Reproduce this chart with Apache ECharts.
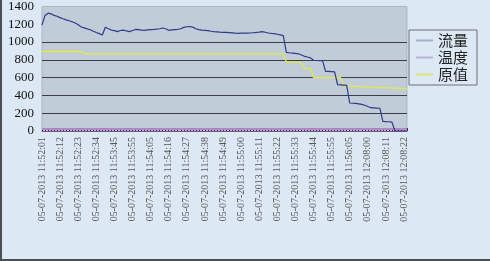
<!DOCTYPE html>
<html>
<head>
<meta charset="utf-8">
<script src="https://cdn.jsdelivr.net/npm/echarts@6/dist/echarts.min.js"></script>
<style>
html,body{margin:0;padding:0;background:#dce9f5;}
#c{width:488px;height:259px;border-left:2px solid #4a4f55;border-bottom:2px solid #4a4f55;}
</style>
</head>
<body>
<div id="c"></div>
<script>
var tickLabels = ['05-07-2013 11:52:01','05-07-2013 11:52:12','05-07-2013 11:52:23','05-07-2013 11:52:34',
  '05-07-2013 11:53:45','05-07-2013 11:53:55','05-07-2013 11:54:05','05-07-2013 11:54:16',
  '05-07-2013 11:54:27','05-07-2013 11:54:38','05-07-2013 11:54:49','05-07-2013 11:55:00',
  '05-07-2013 11:55:11','05-07-2013 11:55:22','05-07-2013 11:55:33','05-07-2013 11:55:44',
  '05-07-2013 11:55:55','05-07-2013 11:56:05','05-07-2013 12:08:00','05-07-2013 12:08:11',
  '05-07-2013 12:08:22'];
var seriesNames = ['流量','温度','原值'];
var flow = [1190,1300,1325,1318,1300,1290,1275,1262,1250,1240,
  1228,1214,1195,1170,1160,1148,1138,1122,1108,1095,
  1080,1166,1150,1135,1128,1118,1130,1135,1125,1118,
  1130,1142,1140,1135,1132,1138,1140,1142,1145,1150,
  1158,1150,1132,1138,1140,1142,1150,1165,1172,1175,
  1168,1150,1140,1135,1132,1128,1122,1118,1115,1112,
  1110,1108,1106,1104,1100,1098,1100,1102,1100,1102,
  1105,1108,1112,1118,1110,1102,1098,1095,1088,1080,
  1072,885,880,876,872,868,855,840,832,822,
  795,793,792,792,670,670,668,665,520,518,
  515,512,315,312,310,305,300,290,275,262,
  260,258,256,108,105,104,100,0,0,0,
  0,0];
var temperature = [22,22,22,22,22,22,22,22,22,22,
  22,22,22,22,22,22,22,22,22,22,
  22,22,22,22,22,22,22,22,22,22,
  22,22,22,22,22,22,22,22,22,22,
  22,22,22,22,22,22,22,22,22,22,
  22,22,22,22,22,22,22,22,22,22,
  22,22,22,22,22,22,22,22,22,22,
  22,22,22,22,22,22,22,22,22,22,
  22,22,22,22,22,22,22,22,22,22,
  22,22,22,22,22,22,22,22,22,22,
  22,22,22,22,22,22,22,22,22,22,
  22,22,22,22,22,22,22,22,22,22,
  22,22];
var original = [894,894,894,894,894,894,894,894,894,894,
  894,894,894,894,868,868,868,868,868,868,
  868,868,868,868,868,868,868,868,868,868,
  868,868,868,868,868,868,868,868,868,868,
  868,868,868,868,868,868,868,868,868,868,
  868,868,868,868,868,868,868,868,868,868,
  868,868,868,868,868,868,868,868,868,868,
  868,868,868,868,868,868,868,868,868,868,
  868,775,775,775,775,775,760,705,705,705,
  600,600,600,600,600,600,600,600,600,600,
  506,505,504,503,502,500,498,497,495,494,
  492,490,489,488,486,485,484,482,481,480,
  479,478];

var categories = flow.map(function(v, i){ return (i % 6 === 0 && tickLabels[i/6]) ? tickLabels[i/6] : ''; });

var chart = echarts.init(document.getElementById('c'), null, {renderer:'canvas'});
var gridColor = '#3b3f45';
chart.setOption({
  animation:false,
  backgroundColor:'#dce9f5',
  grid:{left:40, top:6, right:83, bottom:128, show:true, backgroundColor:'#c0ccd7', borderColor:'#aab6c2', borderWidth:1},
  legend:{
    orient:'vertical', left:407, top:30,
    icon:'rect', itemWidth:17, itemHeight:2, itemGap:2,
    padding:[3,9,3,7],
    borderColor:'#6a7078', borderWidth:1,
    textStyle:{fontFamily:'Noto Sans CJK SC', fontSize:15, color:'#222'},
    data:[
      {name:seriesNames[0], itemStyle:{color:'#a4b0cc'}},
      {name:seriesNames[1], itemStyle:{color:'#b6b4d6'}},
      {name:seriesNames[2], itemStyle:{color:'#dde67a'}}
    ]
  },
  xAxis:{
    type:'category', data:categories, boundaryGap:false,
    axisLine:{show:true, lineStyle:{color:'#6e5a80', width:1}},
    axisTick:{show:true, interval:0, inside:true, length:3, lineStyle:{color:'#3a2a4a'}},
    axisLabel:{
      interval:function(i){ return i % 6 === 0; },
      hideOverlap:false, showMaxLabel:true, showMinLabel:true,
      rotate:90, fontFamily:'Liberation Serif', fontSize:10, color:'#555', margin:6
    },
    splitLine:{show:false}
  },
  yAxis:{
    type:'value', min:0, max:1400, interval:200,
    axisLine:{show:false}, axisTick:{show:false},
    axisLabel:{fontFamily:'Liberation Serif', fontSize:13, color:'#111', margin:8, formatter:function(v){ return String(v); }},
    splitLine:{show:true, lineStyle:{color:[gridColor,gridColor,gridColor,gridColor,gridColor,gridColor,'rgba(0,0,0,0)','rgba(0,0,0,0)'], width:1}}
  },
  series:[
    {name:seriesNames[0], type:'line', data:flow, showSymbol:false, lineStyle:{color:'#2f3a8a', width:1.2}, itemStyle:{color:'#2f3a8a'}, z:4},
    {name:seriesNames[1], type:'line', data:temperature, showSymbol:false, lineStyle:{color:'#b486c8', width:2}, itemStyle:{color:'#b486c8'}, z:3},
    {name:seriesNames[2], type:'line', data:original, showSymbol:false, lineStyle:{color:'#e2e84a', width:1.3}, itemStyle:{color:'#e2e84a'}, z:2}
  ]
});
</script>
</body>
</html>
